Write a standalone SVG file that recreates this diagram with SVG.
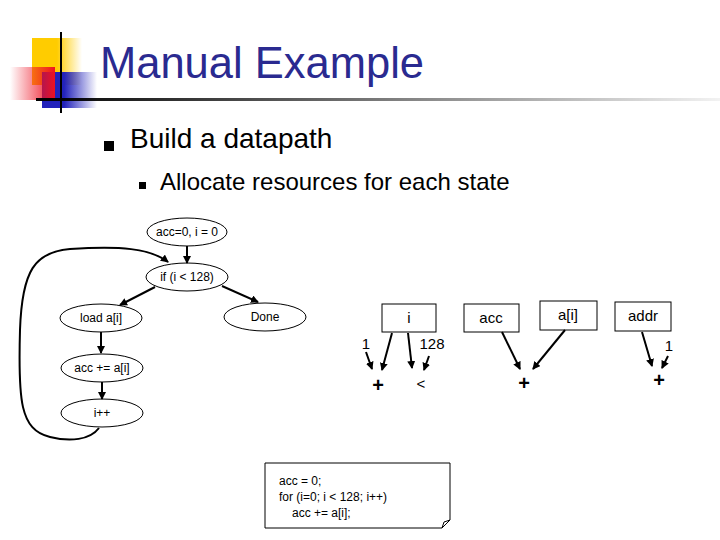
<svg xmlns="http://www.w3.org/2000/svg" width="720" height="540" viewBox="0 0 720 540">
<defs>
<marker id="ah" markerWidth="8" markerHeight="8" refX="7" refY="4" orient="auto" markerUnits="userSpaceOnUse"><path d="M0,0 L8,4 L0,8 z" fill="#000"/></marker>
<linearGradient id="yg" x1="0" x2="1"><stop offset="0.5" stop-color="#ffcc00"/><stop offset="1" stop-color="#ffcc00" stop-opacity="0"/></linearGradient>
<linearGradient id="rg" x1="1" x2="0"><stop offset="0" stop-color="#ee1122"/><stop offset="1" stop-color="#ee1122" stop-opacity="0"/></linearGradient>
<linearGradient id="bg" x1="0" x2="1"><stop offset="0.4" stop-color="#2222bb"/><stop offset="1" stop-color="#2222bb" stop-opacity="0"/></linearGradient>
<linearGradient id="lg" x1="0" x2="1"><stop offset="0" stop-color="#000"/><stop offset="1" stop-color="#000" stop-opacity="0.05"/></linearGradient>
<style>
.n{fill:#fff;stroke:#000;stroke-width:1}
.t{font-family:"Liberation Sans",Arial,sans-serif;font-size:12px;text-anchor:middle}
.b{font-family:"Liberation Sans",Arial,sans-serif;font-size:15px;text-anchor:middle}
.p{font-family:"Liberation Sans",Arial,sans-serif;font-size:20px;font-weight:bold;text-anchor:middle}
.c{stroke:#000;stroke-width:2;fill:none;marker-end:url(#ah)}
</style>
</defs>
<rect width="720" height="540" fill="#fff"/>
<g id="logo">
<rect x="32" y="38" width="50" height="47" fill="url(#yg)"/>
<rect x="42" y="72" width="55" height="36" fill="url(#bg)"/>
<rect x="10" y="67" width="45" height="33" fill="url(#rg)"/>
<line x1="61" y1="32" x2="61" y2="113" stroke="#000" stroke-width="2"/>
</g>
<rect x="36" y="98" width="684" height="3" fill="url(#lg)"/>
<text x="100" y="78" font-family="Liberation Sans,Arial,sans-serif" font-size="43.5" fill="#2a2a90">Manual Example</text>
<rect x="104" y="141" width="10" height="10" fill="#000"/>
<text x="130" y="148" font-family="Liberation Sans,Arial,sans-serif" font-size="28">Build a datapath</text>
<rect x="139" y="182" width="7" height="7" fill="#000"/>
<text x="160" y="190" font-family="Liberation Sans,Arial,sans-serif" font-size="24">Allocate resources for each state</text>
<g id="s0"><ellipse class="n" cx="187" cy="232" rx="40" ry="14"/><text class="t" x="187" y="236">acc=0, i = 0</text></g>
<g id="s1"><ellipse class="n" cx="187" cy="277" rx="41" ry="14"/><text class="t" x="187" y="281">if (i &lt; 128)</text></g>
<g id="s2"><ellipse class="n" cx="101" cy="318" rx="41" ry="14"/><text class="t" x="101" y="322">load a[i]</text></g>
<g id="s3"><ellipse class="n" cx="265" cy="317" rx="41" ry="14"/><text class="t" x="265" y="321">Done</text></g>
<g id="s4"><ellipse class="n" cx="102" cy="368" rx="41" ry="14"/><text class="t" x="102" y="372">acc += a[i]</text></g>
<g id="s5"><ellipse class="n" cx="102" cy="413" rx="41" ry="14"/><text class="t" x="102" y="417">i++</text></g>
<g id="r-i"><rect class="n" x="382" y="304" width="54" height="28"/><text class="b" x="409" y="323">i</text></g>
<g id="r-acc"><rect class="n" x="464" y="304" width="55" height="28"/><text class="b" x="491" y="323">acc</text></g>
<g id="r-ai"><rect class="n" x="540" y="301" width="57" height="29"/><text class="b" x="568" y="320">a[i]</text></g>
<g id="r-addr"><rect class="n" x="615" y="302" width="56" height="29"/><text class="b" x="643" y="321">addr</text></g>
<g id="labels">
<text class="b" x="366" y="349">1</text>
<text class="b" x="432" y="349">128</text>
<text class="b" x="669" y="351">1</text>
<text class="p" x="378" y="392">+</text>
<text class="b" x="421" y="389" font-size="18">&lt;</text>
<text class="p" x="524" y="390">+</text>
<text class="p" x="659" y="387">+</text>
</g>
<g id="connectors">
<line class="c" x1="187" y1="246" x2="187" y2="263"/>
<line class="c" x1="155" y1="287" x2="120" y2="305"/>
<line class="c" x1="222" y1="286" x2="258" y2="302"/>
<line class="c" x1="101" y1="332" x2="101" y2="353"/>
<line class="c" x1="102" y1="382" x2="102" y2="399"/>
<path class="c" d="M99,428 C90,440 70,442 50,437 C20,430 18,400 20,330 C22,270 35,252 70,249 C120,246 150,248 168,262"/>
<line class="c" x1="366" y1="352" x2="372" y2="369"/>
<line class="c" x1="392" y1="333" x2="382" y2="370"/>
<line class="c" x1="408" y1="333" x2="412" y2="368"/>
<line class="c" x1="429" y1="356" x2="424" y2="370"/>
<line class="c" x1="502" y1="332" x2="520" y2="369"/>
<line class="c" x1="565" y1="330" x2="533" y2="369"/>
<line class="c" x1="642" y1="332" x2="652" y2="366"/>
<line class="c" x1="668" y1="356" x2="662" y2="368"/>
</g>
<g id="code">
<path d="M265,463 H450 V520 L442,528 H265 Z" fill="#fff" stroke="#000"/>
<path d="M442,528 L444,522 L450,520" fill="none" stroke="#000"/>
<text font-family="Liberation Sans,Arial,sans-serif" font-size="12" x="279" y="485">acc = 0;</text>
<text font-family="Liberation Sans,Arial,sans-serif" font-size="12" x="279" y="501">for (i=0; i &lt; 128; i++)</text>
<text font-family="Liberation Sans,Arial,sans-serif" font-size="12" x="292" y="517">acc += a[i];</text>
</g>
</svg>
